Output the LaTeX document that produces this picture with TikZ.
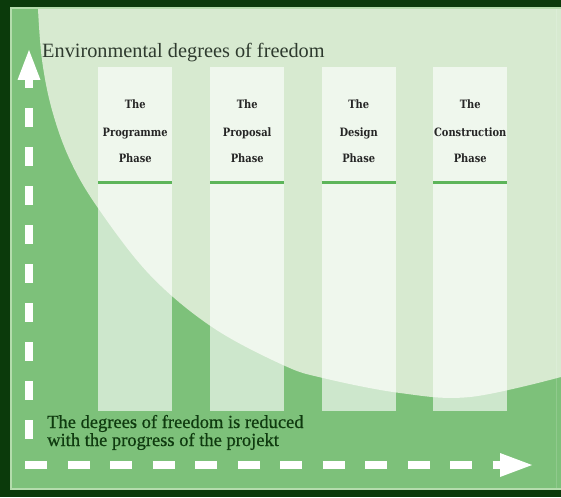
\documentclass[tikz,border=0pt]{standalone}
\usepackage{fontspec}
\setmainfont{Liberation Serif}
\newfontfamily\slabfont{DejaVu Serif}[FakeStretch=0.86]
\newfontfamily\heavyserif{Liberation Serif}[FakeBold=0.6]
\definecolor{framecol}{HTML}{0B3A0B}
\definecolor{rimcol}{HTML}{B4DCAC}
\definecolor{midgreen}{HTML}{7DC17A}
\definecolor{paleback}{HTML}{D7EAD0}
\definecolor{rulecol}{HTML}{5DB55A}
\definecolor{titletext}{HTML}{2E3A2E}
\definecolor{bottomtext}{HTML}{0F3A0F}
\begin{document}
\begin{tikzpicture}[x=1pt,y=-1pt,
  phasecol/.style={fill=white, fill opacity=0.62, minimum width=74pt, minimum height=344pt, anchor=north west, inner sep=0pt, draw=none},
  phaseline/.style={draw=rulecol, line width=3pt},
  phasetext/.style={font=\slabfont\bfseries\fontsize{11.5}{13}\selectfont, text=black!85, anchor=base, inner sep=0pt},
  axisline/.style={draw=white, line width=8pt},
]
\useasboundingbox (0,0) rectangle (561,497);
% frame
\fill[framecol] (0,0) rectangle (561,497);
\fill[rimcol] (10,7) rectangle (561,490);
\fill[midgreen] (12,9) rectangle (561,488);
% pale curved region
\begin{scope}
\clip (12,9) rectangle (561,488);
\fill[paleback] plot[smooth, tension=0.6] coordinates {(38,9) (42,60) (52,110) (70,160) (98,208) (150,275) (212,327) (283,365) (323,378) (400,393) (470,397) (561,377)} -- (561,9) -- cycle;
\end{scope}
\draw[white, opacity=0.15, line width=1.5pt] (556.5,9) -- (556.5,488);
% columns
\node[phasecol] (c1) at (98,67) {};
\node[phasecol] (c2) at (210,67) {};
\node[phasecol] (c3) at (321.5,67) {};
\node[phasecol] (c4) at (433,67) {};
\foreach \c/\name in {c1/Programme, c2/Proposal, c3/Design, c4/Construction}{
  \draw[phaseline] ([yshift=-115pt]\c.north west) -- ([yshift=-115pt]\c.north east);
  \node[phasetext] (\c-a) at ([yshift=-42pt]\c.north) {The};
  \node[phasetext] (\c-b) at ([yshift=-69.5pt]\c.north) {\name};
  \node[phasetext] (\c-c) at ([yshift=-95.5pt]\c.north) {Phase};
}
% title
\node[anchor=base west, inner sep=0pt, text=titletext, font=\fontsize{20.3}{22}\selectfont] (title) at (42,58) {Environmental degrees of freedom};
% bottom text
\node[anchor=base west, inner sep=0pt, text=bottomtext, font=\heavyserif\fontsize{18.5}{18}\selectfont] (note1) at (47,428) {The degrees of freedom is reduced};
\node[anchor=base west, inner sep=0pt, text=bottomtext, font=\heavyserif\fontsize{18.5}{18}\selectfont] (note2) at (47,446) {with the progress of the projekt};
% axes
\coordinate (ytop) at (29,69);
\coordinate (ybot) at (29,441);
\coordinate (ytip) at (29,50);
\coordinate (xstart) at (25,465);
\coordinate (xend) at (500,465);
\coordinate (xtip) at (532,465);
\draw[axisline, dash pattern=on 19pt off 20pt] (ytop) -- (ybot);
\fill[white] ([xshift=-11.5pt, yshift=-30pt]ytip) -- (ytip) -- ([xshift=11.5pt, yshift=-30pt]ytip) -- cycle;
\draw[axisline, dash pattern=on 22pt off 20.5pt] (xstart) -- (xend);
\fill[white] ([yshift=12pt]xend) -- (xtip) -- ([yshift=-12pt]xend) -- cycle;
\end{tikzpicture}
\end{document}
